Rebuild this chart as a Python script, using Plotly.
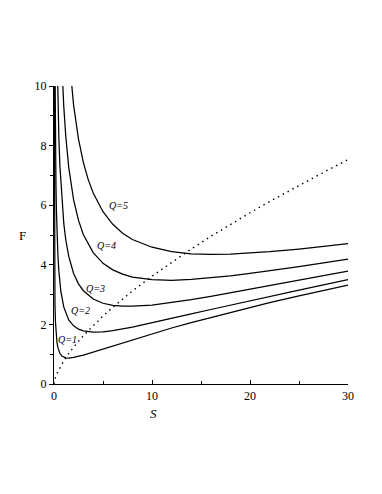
import plotly.graph_objects as go

# 读取图中的数据：S 为横坐标，F 为纵坐标，每条曲线对应一个 Q
s_q1 = [0.01, 0.02, 0.03, 0.05, 0.08, 0.1, 0.15, 0.2, 0.3, 0.4, 0.5, 0.6, 0.8, 1.0, 1.2, 1.5,
        2, 3, 4, 5, 6, 8, 10, 12, 14, 16, 18, 20, 22, 25, 30]
f_q1 = [12.09, 7.62, 5.84, 4.17, 3.08, 2.67, 2.08, 1.75, 1.40, 1.22, 1.10, 1.03, 0.94, 0.90, 0.88, 0.87,
        0.89, 0.97, 1.07, 1.18, 1.29, 1.49, 1.69, 1.88, 2.06, 2.23, 2.40, 2.57, 2.73, 2.96, 3.32]

s_q2 = [0.09, 0.1, 0.12, 0.15, 0.2, 0.25, 0.3, 0.4, 0.5, 0.7, 1.0, 1.5, 2, 2.5, 3, 4, 5, 6, 8,
        10, 12, 14, 16, 18, 20, 22, 25, 30]
f_q2 = [11.22, 10.47, 9.29, 8.03, 6.67, 5.78, 5.15, 4.31, 3.77, 3.11, 2.58, 2.15, 1.95, 1.84, 1.78,
        1.74, 1.75, 1.79, 1.91, 2.05, 2.20, 2.35, 2.50, 2.65, 2.79, 2.94, 3.15, 3.50]

s_q3 = [0.3, 0.35, 0.4, 0.5, 0.6, 0.8, 1.0, 1.2, 1.5, 2, 2.5, 3, 4, 5, 6, 7, 8, 10, 12, 14, 16,
        18, 20, 22, 25, 30]
f_q3 = [11.40, 10.32, 9.47, 8.21, 7.33, 6.14, 5.38, 4.84, 4.29, 3.71, 3.36, 3.13, 2.85, 2.71, 2.64,
        2.61, 2.61, 2.65, 2.73, 2.83, 2.94, 3.06, 3.17, 3.30, 3.48, 3.79]

s_q4 = [0.75, 0.85, 1.0, 1.2, 1.5, 2, 2.5, 3, 4, 5, 6, 7, 8, 10, 12, 14, 16, 18, 20, 22, 25, 30]
f_q4 = [11.13, 10.29, 9.30, 8.32, 7.28, 6.18, 5.49, 5.01, 4.41, 4.05, 3.83, 3.69, 3.59, 3.50, 3.48,
        3.51, 3.56, 3.63, 3.71, 3.80, 3.94, 4.19]

s_q5 = [1.5, 1.7, 2, 2.5, 3, 3.5, 4, 5, 6, 7, 8, 10, 12, 14, 16, 18, 20, 22, 25, 30]
f_q5 = [11.13, 10.31, 9.36, 8.22, 7.43, 6.85, 6.41, 5.78, 5.36, 5.06, 4.85, 4.59, 4.44, 4.37, 4.35,
        4.36, 4.39, 4.44, 4.53, 4.71]

# 点线
s_dot = [0, 0.1, 0.3, 0.6, 1, 1.5, 2, 3, 4, 5, 6, 8, 10, 12, 14, 16, 18, 20, 22, 25, 28, 30]
f_dot = [0, 0.168, 0.35, 0.555, 0.78, 1.022, 1.238, 1.622, 1.965, 2.281, 2.575, 3.12, 3.62, 4.088,
         4.531, 4.953, 5.357, 5.747, 6.124, 6.669, 7.19, 7.531]

# 曲线标签
label_text = ['Q=1', 'Q=2', 'Q=3', 'Q=4', 'Q=5']
label_s = [1.33, 2.7, 4.23, 5.35, 6.58]
label_f = [1.48, 2.48, 3.21, 4.66, 6.0]

serif = 'Liberation Serif, Times New Roman, serif'

fig = go.Figure()

curves = [(s_q1, f_q1), (s_q2, f_q2), (s_q3, f_q3), (s_q4, f_q4), (s_q5, f_q5)]
for (s, f), name in zip(curves, label_text):
    fig.add_trace(go.Scatter(x=s, y=f, mode='lines', name=name,
                             line=dict(color='black', width=1.25)))

fig.add_trace(go.Scatter(x=s_dot, y=f_dot, mode='lines', name='dot',
                         line=dict(color='black', width=1.4, dash='1.5px,4px')))

# Q 标签（斜体）
for t, xs, yf in zip(label_text, label_s, label_f):
    fig.add_annotation(x=xs, y=yf, text='<i>' + t + '</i>', showarrow=False,
                       font=dict(family=serif, size=10, color='black'))

# 坐标轴标题
fig.add_annotation(x=-0.125, y=0.497, xref='paper', yref='paper', text='F', showarrow=False,
                   font=dict(family=serif, size=13, color='black'))
fig.add_annotation(x=10.15, y=-0.068, xref='x', yref='paper', yanchor='top', text='<i>S</i>',
                   showarrow=False, font=dict(family=serif, size=13, color='black'))

# 页面自带 8px 边距，所以图整体缩小一点
fig.update_layout(
    width=374, height=486,
    margin=dict(l=46, r=34, t=78, b=110),
    plot_bgcolor='white', paper_bgcolor='white',
    showlegend=False,
    font=dict(family=serif, size=12, color='black'),
)

fig.update_xaxes(range=[0, 30], showgrid=False, zeroline=False,
                 showline=True, linecolor='black', linewidth=1,
                 tickvals=[0, 10, 20, 30], ticks='inside', ticklen=4, tickcolor='black',
                 minor=dict(tickvals=[5, 15, 25], ticks='inside', ticklen=3, tickcolor='black'),
                 tickfont=dict(family=serif, size=12), ticklabelstandoff=1)
fig.update_yaxes(range=[0, 10], showgrid=False, zeroline=False,
                 showline=True, linecolor='black', linewidth=1,
                 tickvals=[0, 2, 4, 6, 8, 10], ticks='outside', ticklen=4, tickcolor='black',
                 minor=dict(tickvals=[1, 3, 5, 7, 9], ticks='outside', ticklen=3, tickcolor='black'),
                 tickfont=dict(family=serif, size=12))

fig.write_html("out.html")
